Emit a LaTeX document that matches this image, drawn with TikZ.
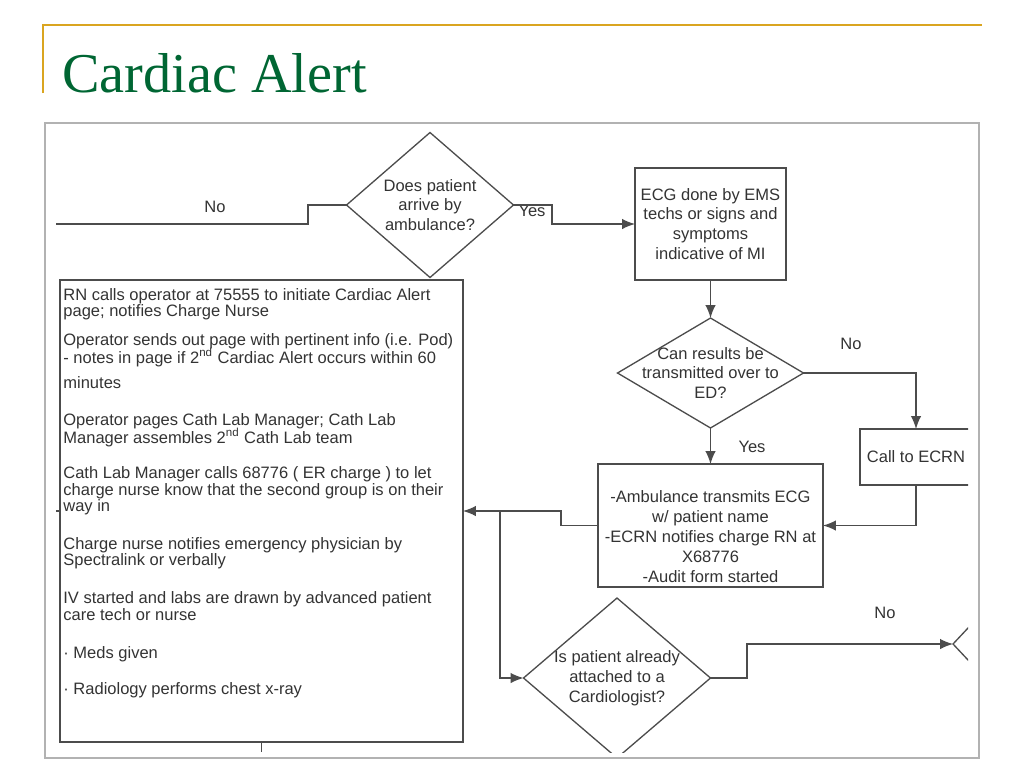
\documentclass[tikz,border=0pt]{standalone}
\usepackage{fontspec}
\usetikzlibrary{shapes.geometric,arrows.meta}
\newfontfamily\flowfont{Liberation Sans}
\newfontfamily\titlefont{Liberation Serif}
\definecolor{titlegreen}{RGB}{0,102,51}
\definecolor{rulegold}{RGB}{218,165,32}
\begin{document}
\begin{tikzpicture}[x=0.02cm,y=-0.02cm,>={Latex[length=2.6mm,width=2.1mm]},
  every node/.style={font=\flowfont\fontsize{9.4}{11.3}\selectfont,text=black!80},
  decision/.style={shape=diamond,draw=black!70,line width=0.75pt,inner sep=0pt,outer sep=0pt},
  process/.style={shape=rectangle,draw=black!70,line width=0.75pt,align=center,inner sep=0pt,outer sep=0pt},
  flow/.style={color=black!70,line width=0.75pt},
  inside/.style={align=center,inner sep=0pt},
  steptext/.style={anchor=north west,align=left,inner sep=0pt,font=\flowfont\fontsize{9.4}{9.35}\selectfont,xshift=0.06cm,yshift=-0.16cm}]
  \useasboundingbox (0,0) rectangle (1024,768);
  % slide title
  \draw[rulegold,line width=1.1pt] (43,93) -- (43,25) -- (982,25);
  \node[anchor=base west,inner sep=0pt,font=\titlefont\fontsize{32}{36}\selectfont,text=titlegreen] (title) at (62,92) {Cardiac Alert};
  % frame round the chart
  \draw[black!30,line width=0.9pt] (45,123) rectangle (979,758);
  \begin{scope}
  \clip (50,129) rectangle (968,752);
  \node[decision,minimum width=3.34cm,minimum height=2.9cm,label={[inside]center:Does patient\\arrive by\\ambulance?}] (arrive) at (430,205) {};
  \node[process,minimum width=3.02cm,minimum height=2.24cm] (ecg) at (710.5,224) {ECG done by EMS\\techs or signs and\\symptoms\\indicative of MI};
  \node[decision,minimum width=3.72cm,minimum height=2.2cm,label={[inside]center:Can results be\\transmitted over to\\ED?}] (trans) at (710.5,373) {};
  \node[process,minimum width=2.24cm,minimum height=1.12cm] (ecrn) at (916,457) {Call to ECRN};
  \node[process,minimum width=4.5cm,minimum height=2.46cm,label={[inside,yshift=-0.22cm]center:-Ambulance transmits ECG\\w/ patient name\\-ECRN notifies charge RN at\\X68776\\-Audit form started}] (amb) at (710.5,525.5) {};
  \node[process,minimum width=8.06cm,minimum height=9.24cm,label={[steptext]north west:{RN calls operator at 75555 to initiate Cardiac Alert\\
    page; notifies Charge Nurse\\[7pt]
    Operator sends out page with pertinent info (i.e. Pod)\\[0.85pt]
    - notes in page if 2\smash{\textsuperscript{nd}} Cardiac Alert occurs within 60\\[4.8pt]
    minutes\\[11.6pt]
    Operator pages Cath Lab Manager; Cath Lab\\[0.85pt]
    Manager assembles 2\smash{\textsuperscript{nd}} Cath Lab team\\[11pt]
    Cath Lab Manager calls 68776 ( ER charge ) to let\\
    charge nurse know that the second group is on their\\
    way in\\[12.2pt]
    Charge nurse notifies emergency physician by\\
    Spectralink or verbally\\[12.2pt]
    IV started and labs are drawn by advanced patient\\
    care tech or nurse\\[12.2pt]
    · Meds given\\[11.6pt]
    · Radiology performs chest x-ray}}] (steps) at (261.5,511) {};
  \node[decision,minimum width=3.74cm,minimum height=3.2cm,label={[inside]center:Is patient already\\attached to a\\Cardiologist?}] (cardio) at (617,678) {};
  \node[decision,minimum width=3.6cm,minimum height=3.84cm] (next) at (1043,644) {};
  % branch labels
  \node (noleft) at (215,207) {No};
  \node (yestop) at (532,211) {Yes};
  \node (noright) at (851,344) {No};
  \node (yesdown) at (752,447) {Yes};
  \node (nobottom) at (885,613) {No};
  % connectors
  \coordinate (noend) at (56,224);
  \coordinate (fork) at (500,511);
  \draw[flow] (arrive.west) -- (308,205) -- (308,224) -- (noend);
  \draw[flow,->] (arrive.east) -- (552,205) -- (552,224) -- (ecg.west);
  \path[flow,->] (ecg.south) edge (trans.north);
  \draw[flow,->] (trans.east) -| (ecrn.north);
  \path[flow,->] (trans.south) edge (amb.north);
  \draw[flow,->] (ecrn.south) |- (amb.east);
  \draw[flow,->] (amb.west) -- (561,525.5) -- (561,511) -- (steps.east);
  \draw[flow,->] (fork) |- (cardio.west);
  \draw[flow,->] (cardio.east) -- (747,678) -- (747,644) -- (next.west);
  \draw[flow] (steps.south) -- ++(0,10);
  \draw[flow] (steps.west) -- ++(-4,0);
  \end{scope}
\end{tikzpicture}
\end{document}
